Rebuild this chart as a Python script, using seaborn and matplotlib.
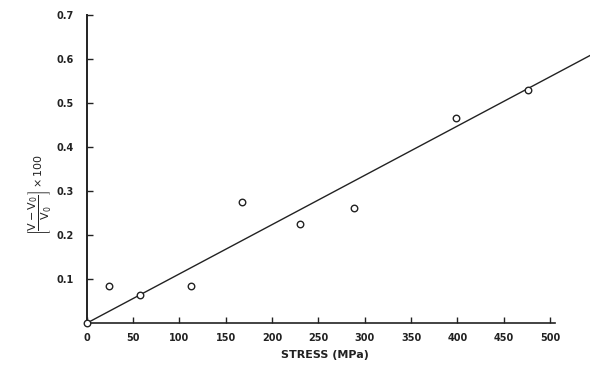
import seaborn as sns
import pandas as pd
from matplotlib import pyplot as plt

# measured points (stress in MPa, volume change in %)
stress = [0, 24, 58, 113, 167, 230, 288, 398, 476]
vol_change = [0.0, 0.085, 0.064, 0.084, 0.275, 0.225, 0.261, 0.466, 0.530]

# fitted straight line through the origin
fit_stress = [0, 545]
fit_vol = [0.0, 0.610]

x_ticks = [0, 50, 100, 150, 200, 250, 300, 350, 400, 450, 500]
y_ticks = [0.1, 0.2, 0.3, 0.4, 0.5, 0.6, 0.7]

pts = pd.DataFrame({"stress": stress, "vol": vol_change})
fit = pd.DataFrame({"stress": fit_stress, "vol": fit_vol})

sns.set_style("white")
plt.rcParams['font.family'] = ['DejaVu Sans']

fig = plt.figure(figsize=(5.9, 3.82), dpi=100)
ax = fig.add_axes([0.147, 0.154, 0.853, 0.807])

sns.lineplot(data=fit, x="stress", y="vol", color="#222222", linewidth=1.0, ax=ax)
sns.scatterplot(data=pts, x="stress", y="vol", marker="o", s=22, facecolor="white",
                edgecolor="#222222", linewidth=1.0, zorder=3, clip_on=False, ax=ax)

ax.set_xlim(0, 543)
ax.set_ylim(0, 0.7)

for side in ["top", "right"]:
    ax.spines[side].set_visible(False)
ax.spines["bottom"].set_bounds(0, 505)
ax.spines["left"].set_bounds(0, 0.7)
ax.spines["bottom"].set_color("#222222")
ax.spines["left"].set_color("#222222")
ax.spines["bottom"].set_linewidth(1.2)
ax.spines["left"].set_linewidth(1.4)

ax.set_xticks(x_ticks)
ax.set_xticklabels([str(t) for t in x_ticks])
ax.set_yticks(y_ticks)
ax.set_yticklabels([f"{t:.1f}" for t in y_ticks])
ax.tick_params(axis="x", direction="in", length=4, width=1, pad=7, labelsize=7,
               colors="#222222", bottom=True)
ax.tick_params(axis="y", direction="in", length=4, width=1, pad=9, labelsize=7,
               colors="#222222", left=True)
for lbl in ax.get_xticklabels() + ax.get_yticklabels():
    lbl.set_fontweight("semibold")

ax.set_xlabel("")
ax.set_ylabel("")
fig.text(0.551, 0.07, "STRESS (MPa)", ha="center", va="center", fontsize=8,
         fontweight="semibold", color="#222222")
fig.text(0.068, 0.49, r"$\left[\dfrac{\mathrm{V-V_0}}{\mathrm{V_0}}\right]\times\mathrm{100}$",
         ha="center", va="center", rotation=90, fontsize=8, color="#222222")

fig.savefig("out.png", dpi=100)
